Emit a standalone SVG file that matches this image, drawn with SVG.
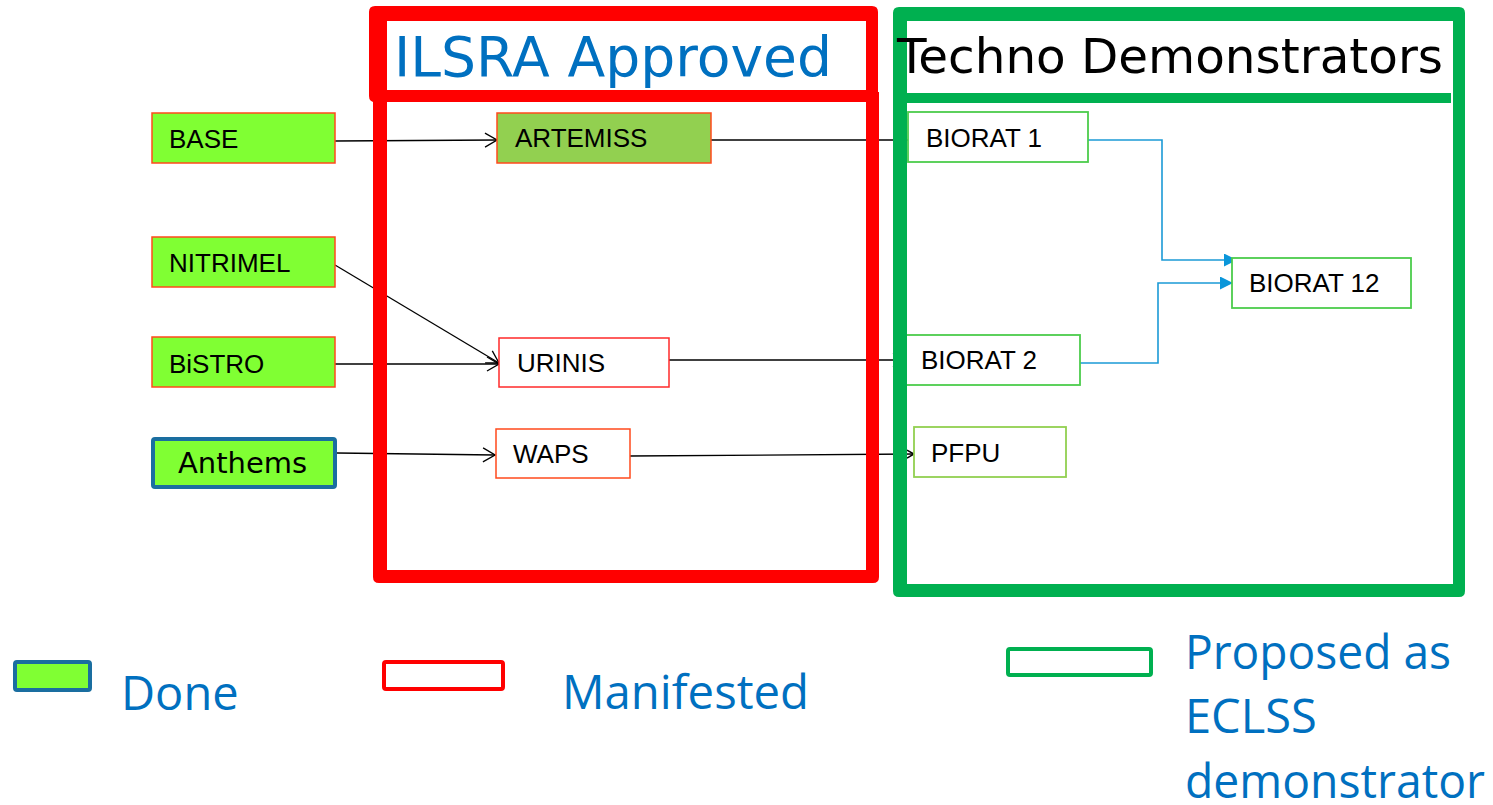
<svg xmlns="http://www.w3.org/2000/svg" width="1493" height="805" viewBox="0 0 1493 805">
<style>
  .lbl { font-family: "Liberation Sans", Arial, sans-serif; font-size: 26px; fill: #000; }
  .done { fill: #80FF33; stroke: #FF4A1C; stroke-width: 1.5; }
  .art { fill: #92D050; stroke: #FF4A1C; stroke-width: 1.5; }
  .man { fill: #fff; stroke: #FF2A2A; stroke-width: 1.5; }
  .man2 { fill: #fff; stroke: #FF4A1C; stroke-width: 1.5; }
  .prop { fill: #fff; stroke: #4CCC4C; stroke-width: 1.8; }
  .prop2 { fill: #fff; stroke: #92D050; stroke-width: 1.8; }
  .conn { fill: none; stroke: #000; stroke-width: 1.3; }
  .bconn { fill: none; stroke: #1B9AD6; stroke-width: 1.6; }
  .leg { font-family: "Open Sans", "Noto Sans", sans-serif; font-size: 47px; fill: #0070C0; }
  .title { font-family: "DejaVu Sans", Verdana, sans-serif; }
</style>
<defs>
  <marker id="open" viewBox="0 0 14 16" markerWidth="14" markerHeight="16" refX="13" refY="8" orient="auto" markerUnits="userSpaceOnUse">
    <path d="M1,1 L13,8 L1,15" fill="none" stroke="#000" stroke-width="1.3"/>
  </marker>
  <marker id="openS" viewBox="0 0 9 10" markerWidth="9" markerHeight="10" refX="8" refY="5" orient="auto" markerUnits="userSpaceOnUse">
    <path d="M1,1 L8,5 L1,9" fill="none" stroke="#000" stroke-width="1.5"/>
  </marker>
  <marker id="tri" viewBox="0 0 13 13" markerWidth="13" markerHeight="13" refX="12" refY="6.5" orient="auto" markerUnits="userSpaceOnUse">
    <path d="M0,0 L13,6.5 L0,13 Z" fill="#0A96DA"/>
  </marker>
</defs>
<rect width="1493" height="805" fill="#fff"/>

<g id="connectors">
  <path class="conn" d="M335,141 L497,140" marker-end="url(#open)"/>
  <path class="conn" d="M335,265 L499,363" marker-end="url(#open)"/>
  <path class="conn" d="M335,364 L499,364" marker-end="url(#open)"/>
  <path class="conn" d="M337,453 L495,455" marker-end="url(#open)"/>
  <path class="conn" d="M711,140 L907,140" marker-end="url(#open)"/>
  <path class="conn" d="M669,360 L905,360" marker-end="url(#open)"/>
  <path class="conn" d="M630,456 L914,454" marker-end="url(#openS)"/>
  <path class="bconn" d="M1088,140 H1162 V260 H1236" marker-end="url(#tri)"/>
  <path class="bconn" d="M1080,363 H1158 V283 H1232" marker-end="url(#tri)"/>
</g>

<g id="node-base"><rect class="done" x="152" y="113" width="183" height="50"/><text class="lbl" x="169" y="148">BASE</text></g>
<g id="node-nitrimel"><rect class="done" x="152" y="237" width="183" height="50"/><text class="lbl" x="169" y="272">NITRIMEL</text></g>
<g id="node-bistro"><rect class="done" x="152" y="337" width="183" height="50"/><text class="lbl" x="169" y="373">BiSTRO</text></g>
<g id="node-anthems"><rect x="153" y="439" width="182" height="48" rx="2" fill="#80FF33" stroke="#1A6EA0" stroke-width="4"/><text class="title" x="178" y="473" font-size="29" fill="#000">Anthems</text></g>
<g id="node-artemiss"><rect class="art" x="497" y="113" width="214" height="50"/><text class="lbl" x="515" y="147">ARTEMISS</text></g>
<g id="node-urinis"><rect class="man" x="499" y="338" width="170" height="49"/><text class="lbl" x="517" y="372">URINIS</text></g>
<g id="node-waps"><rect class="man2" x="496" y="429" width="134" height="49"/><text class="lbl" x="513" y="463">WAPS</text></g>
<g id="node-biorat1"><rect class="prop" x="908" y="112" width="180" height="50"/><text class="lbl" x="926" y="147">BIORAT 1</text></g>
<g id="node-biorat2"><rect class="prop" x="906" y="335" width="174" height="50"/><text class="lbl" x="921" y="369">BIORAT 2</text></g>
<g id="node-biorat12"><rect class="prop" x="1232" y="258" width="179" height="50"/><text class="lbl" x="1249" y="292">BIORAT 12</text></g>
<g id="node-pfpu"><rect class="prop2" x="914" y="427" width="152" height="50"/><text class="lbl" x="931" y="462">PFPU</text></g>

<g id="frame-ilsra">
  <path fill="#FF0000" fill-rule="evenodd" d="M373,92 H879 V577 Q879,583 873,583 H379 Q373,583 373,577 Z M387,102 H866 V570 H387 Z"/>
  <path fill="#FF0000" fill-rule="evenodd" d="M375,6 H872 Q878,6 878,12 V96 Q878,102 872,102 H375 Q369,102 369,96 V12 Q369,6 375,6 Z M387,21 H866 V90 H387 Z"/>
  <text class="title" x="394" y="76" font-size="55" fill="#0070C0" textLength="438" lengthAdjust="spacingAndGlyphs">ILSRA Approved</text>
</g>

<g id="frame-techno">
  <path fill="#00B050" fill-rule="evenodd" d="M899,7 H1459 Q1465,7 1465,13 V591 Q1465,597 1459,597 H899 Q893,597 893,591 V13 Q893,7 899,7 Z M907,21 H1453 V584 H907 Z"/>
  <rect x="907" y="93" width="544" height="10" fill="#00B050"/>
  <text class="title" x="897" y="73" font-size="48" fill="#000" textLength="546" lengthAdjust="spacingAndGlyphs">Techno Demonstrators</text>
</g>

<g id="legend-done"><rect x="15" y="662" width="75" height="28" rx="2" fill="#80FF33" stroke="#1A6EA0" stroke-width="4"/><text class="leg" x="121" y="710">Done</text></g>
<g id="legend-manifested"><rect x="384" y="662" width="119" height="27" rx="2" fill="#fff" stroke="#FF0000" stroke-width="4"/><text class="leg" x="562" y="709" textLength="247" lengthAdjust="spacingAndGlyphs">Manifested</text></g>
<g id="legend-proposed"><rect x="1008" y="649" width="143" height="26" rx="2" fill="#fff" stroke="#00B050" stroke-width="4"/>
  <text class="leg" x="1185" y="669" textLength="266" lengthAdjust="spacingAndGlyphs">Proposed as</text>
  <text class="leg" x="1185" y="733">ECLSS</text>
  <text class="leg" x="1185" y="798" textLength="300" lengthAdjust="spacingAndGlyphs">demonstrator</text>
</g>
</svg>
